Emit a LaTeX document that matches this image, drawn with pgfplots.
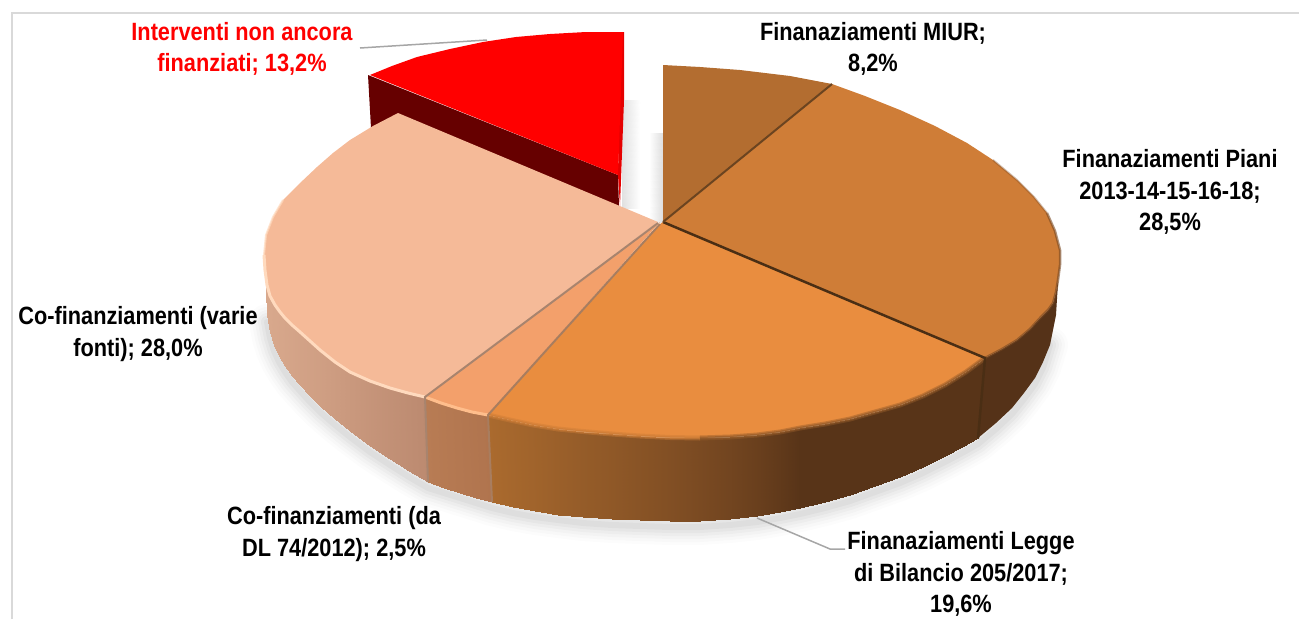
\documentclass[border=0pt]{standalone}
\usepackage{fontspec}
\setmainfont{Liberation Sans}
\newfontfamily\lab[FakeStretch=0.87]{Liberation Sans}
\usepackage{pgfplots}
\usepackage{pgfplotstable}
\pgfplotsset{compat=1.18}

\definecolor{miur}{RGB}{179,109,48}
\definecolor{piani}{RGB}{207,125,55}
\definecolor{legge}{RGB}{233,141,63}
\definecolor{dl}{RGB}{243,160,107}
\definecolor{varie}{RGB}{245,186,152}
\definecolor{rosso}{RGB}{255,0,0}
\definecolor{rossoscuro}{RGB}{102,0,0}
\definecolor{latodark}{RGB}{85,50,24}
\definecolor{leader}{RGB}{166,166,166}
\definecolor{cornice}{RGB}{217,217,217}
\tikzset{lbl/.style={font=\lab\bfseries\fontsize{25}{31.5}\selectfont, align=center, inner sep=0pt}}

% bottom outline of the pie, used for the soft shadow
\pgfplotstableread{
x y
267 322
270 338
274 351
279 362
285 372
292 382
300 391
310 402
320 412
335 425
350 437
370 452
390 465
409 477
428 488
492 508
513 513
535 517
558 520
583 523
612 525
640 526
670 527
700 527
730 525
757 522
780 518
800 514
825 508
850 501
875 492
900 483
923 473
945 462
962 453
978 444
996 429
1012 414
1024 399
1035 384
1043 368
1050 345
}\outline

% side walls: top row, then bottom row
\pgfplotstableread{
x y c
264 255 0
265 270 .02
267 285 .05
270 296 .07
275 305 .1
280 312 .12
285 318 .15
292 325 .2
300 332 .25
310 341 .3
320 350 .35
335 362 .45
350 372 .55
370 381 .68
390 388 .8
408 393 .9
425 397 1
265 258 0
266 290 .02
267 315 .05
270 332 .07
274 345 .1
279 356 .12
285 366 .15
292 376 .2
300 385 .25
310 396 .3
320 406 .35
335 419 .45
350 431 .55
370 446 .68
390 459 .8
409 471 .9
428 482 1
}\sidevarie

\pgfplotstableread{
x y c
425 397 0
441 403 .25
457 408 .5
472 412 .75
488 415 1
428 482 0
444 488 .25
460 493 .5
476 498 .75
492 502 1
}\sidedl

\pgfplotstableread{
x y c
488 415 0
510 420 .05
533 425 .1
558 429 .16
583 431.5 .22
612 434 .28
640 436 .35
670 437.5 .42
700 438 .5
730 437 .62
757 435 .74
780 432 .87
800 428 1
825 424 1
850 419 1
875 412 1
900 405 1
923 396 1
945 385 1
966 372 1
985 358 1
492 502 0
513 507 .05
535 511 .1
558 514.5 .16
583 517 .22
612 519 .28
640 520 .35
670 521 .42
700 521 .5
730 519 .62
757 516 .74
780 512 .87
800 508 1
825 502 1
850 495 1
875 486 1
900 477 1
923 467 1
945 456 1
962 447 1
978 438 1
}\sidelegge

% shadows next to the exploded slice
\pgfplotstableread{
x y c
622 100 0
640 100 1
622 208 0
640 208 1
}\shadowred

\pgfplotstableread{
x y c
649 133 1
663 133 0
649 222 1
663 222 0
}\shadowmiur

\begin{document}
\begin{tikzpicture}
\begin{axis}[
  name=a, at={(0,0)}, anchor=south west,
  scale only axis, width=1299pt, height=619pt,
  xmin=0, xmax=1299, ymin=0, ymax=619, y dir=reverse,
  hide axis, clip=true,
  point meta min=0, point meta max=1,
]
% frame
\addplot[cornice, line width=1.5pt] coordinates {(12,619) (12,13) (1299,13)};

% soft shadow
\addplot[black, opacity=.012, line width=36pt, line join=round, line cap=round] table {\outline};
\addplot[black, opacity=.015, line width=30pt, line join=round, line cap=round] table {\outline};
\addplot[black, opacity=.02, line width=24pt, line join=round, line cap=round] table {\outline};
\addplot[black, opacity=.025, line width=18pt, line join=round, line cap=round] table {\outline};
\addplot[black, opacity=.03, line width=12pt, line join=round, line cap=round] table {\outline};
\addplot[black, opacity=.035, line width=6pt, line join=round, line cap=round] table {\outline};

\addplot[surf, shader=interp, mesh/rows=2, point meta=explicit,
  colormap={sgr}{rgb255=(225,225,225) rgb255=(255,255,255)}] table [meta=c] {\shadowred};
\addplot[surf, shader=interp, mesh/rows=2, point meta=explicit,
  colormap={sgm}{rgb255=(222,222,222) rgb255=(255,255,255)}] table [meta=c] {\shadowmiur};

% exploded slice
\addplot[fill=rossoscuro, draw=none] coordinates {(368,75) (618,175) (619,206) (371,128)} --cycle;
\addplot[fill=rosso!90!black, draw=none] coordinates {(621,32) (624,32) (624,100) (620,206) (618,175)} --cycle;
\addplot[fill=rosso, draw=none] coordinates {(370,75) (392,66) (417,57) (450,49) (483,42) (516,37) (550,34) (586,32) (623,32) (618,175)} --cycle;

% side walls
\addplot[surf, shader=interp, mesh/rows=2, point meta=explicit,
  colormap={cv}{rgb255=(218,170,142) rgb255=(188,138,112)}] table [meta=c] {\sidevarie};
\addplot[surf, shader=interp, mesh/rows=2, point meta=explicit,
  colormap={cd}{rgb255=(184,124,84) rgb255=(176,116,78)}] table [meta=c] {\sidedl};
\addplot[surf, shader=interp, mesh/rows=2, point meta=explicit,
  colormap={cl}{rgb255=(170,106,46) rgb255=(122,74,34) rgb255=(88,52,24)}] table [meta=c] {\sidelegge};
\addplot[fill=latodark, draw=none] coordinates {(985,358) (1002,349) (1017,340) (1030,329) (1040,318) (1048,310) (1053,303) (1056,292) (1058,280) (1060,265) (1060,250)
  (1056,315) (1050,345) (1043,362) (1035,378) (1024,393) (1012,408) (996,423) (978,438)} --cycle;

% top faces
\addplot[fill=varie, draw=none] coordinates {(658,222) (398,113) (373,126) (350,140) (333,153) (317,167) (299,184) (283,200) (273,217) (266,235) (264,255)
  (265,270) (267,285) (270,296) (275,305) (280,312) (285,318) (292,325) (300,332) (310,341) (320,350) (335,362) (350,372) (370,381) (390,388) (408,393) (425,397)} --cycle;
\addplot[fill=dl, draw=none] coordinates {(660,222) (425,397) (441,403) (457,408) (472,412) (488,415)} --cycle;
\addplot[fill=legge, draw=none] coordinates {(660,224) (488,415) (510,420) (533,425) (558,429) (583,431.5) (612,434) (640,436) (670,437.5) (700,438) (730,437) (757,435)
  (780,432) (800,428) (825,424) (850,419) (875,412) (900,405) (923,396) (945,385) (966,372) (985,358) (663,222)} --cycle;
\addplot[fill=piani, draw=none] coordinates {(663,222) (832,84) (865,96) (900,110) (935,126) (967,143) (993,160) (1017,180) (1034,197) (1047,213) (1055,231) (1060,250)
  (1060,265) (1058,280) (1056,292) (1053,303) (1048,310) (1040,318) (1030,329) (1017,340) (1002,349) (985,358)} --cycle;
\addplot[fill=miur, draw=none] coordinates {(663,65) (700,67) (740,70) (790,76) (832,84) (663,222)} --cycle;

% rim highlights
\addplot[color={rgb,255:red,255;green,218;blue,190}, opacity=.7, line width=2pt, line join=round] coordinates {(283,200) (273,217) (266,235) (264,255)};
\addplot[color={rgb,255:red,255;green,218;blue,190}, line width=3pt, line join=round] coordinates {(264,255) (265,270) (267,285) (270,296) (275,305) (280,312) (285,318) (292,325) (300,332) (310,341) (320,350) (335,362) (350,372) (370,381) (390,388) (408,393) (425,397)};
\addplot[color={rgb,255:red,255;green,190;blue,140}, line width=3pt, line join=round] coordinates {(425,397) (441,403) (457,408) (472,412) (488,415)};
\addplot[color={rgb,255:red,205;green,125;blue,55}, opacity=.45, line width=5pt, line join=round] coordinates {(488,415) (510,420) (533,425) (558,429) (583,431.5) (612,434) (640,436) (670,437.5) (700,438)};
\addplot[color={rgb,255:red,205;green,125;blue,55}, opacity=.7, line width=2.5pt, line join=round] coordinates {(488,415) (510,420) (533,425) (558,429) (583,431.5) (612,434) (640,436) (670,437.5) (700,438)};
\addplot[color={rgb,255:red,150;green,92;blue,42}, opacity=.45, line width=5pt, line join=round] coordinates {(700,438) (730,437) (757,435) (780,432) (800,428) (825,424) (850,419) (875,412) (900,405) (923,396) (945,385) (966,372) (985,358)};
\addplot[color={rgb,255:red,150;green,92;blue,42}, opacity=.7, line width=2.5pt, line join=round] coordinates {(700,438) (730,437) (757,435) (780,432) (800,428) (825,424) (850,419) (875,412) (900,405) (923,396) (945,385) (966,372) (985,358)};
\addplot[color={rgb,255:red,120;green,72;blue,34}, opacity=.6, line width=2.5pt, line join=round] coordinates {(985,358) (1002,349) (1017,340) (1030,329) (1040,318) (1048,310) (1053,303) (1056,292) (1058,280) (1060,265) (1060,250) (1055,231) (1047,213)};
\addplot[color={rgb,255:red,120;green,72;blue,34}, opacity=.35, line width=2pt, line join=round] coordinates {(1047,213) (1034,197) (1017,180) (993,160)};

% separators
\addplot[color={rgb,255:red,168;green,132;blue,110}, line width=2pt] coordinates {(658,223) (425,397) (428,482)};
\addplot[color={rgb,255:red,168;green,125;blue,95}, line width=2pt] coordinates {(660,224) (488,415) (492,502)};
\addplot[color={rgb,255:red,74;green,46;blue,20}, line width=2.5pt] coordinates {(663,222) (985,358) (978,438)};
\addplot[color={rgb,255:red,107;green,68;blue,32}, line width=2pt] coordinates {(663,222) (832,84)};

% leaders
\addplot[leader, line width=1.5pt] coordinates {(360,48) (487,40)};
\addplot[leader, line width=1.5pt] coordinates {(757,518) (830,549) (845,549)};

% labels
\node[lbl, text=rosso] at (axis cs:242,49) {Interventi non ancora\\finanziati; 13,2\%};
\node[lbl] at (axis cs:873,49) {Finanaziamenti MIUR;\\8,2\%};
\node[lbl] at (axis cs:1170,192) {Finanaziamenti Piani\\2013-14-15-16-18;\\28,5\%};
\node[lbl] at (axis cs:138,334) {Co-finanziamenti (varie\\fonti); 28,0\%};
\node[lbl] at (axis cs:334,534) {Co-finanziamenti (da\\DL 74/2012); 2,5\%};
\node[lbl] at (axis cs:961,574) {Finanaziamenti Legge\\di Bilancio 205/2017;\\19,6\%};
\end{axis}
\pgfresetboundingbox
\path[use as bounding box] (0,0) rectangle (1299pt,619pt);
\end{tikzpicture}
\end{document}
